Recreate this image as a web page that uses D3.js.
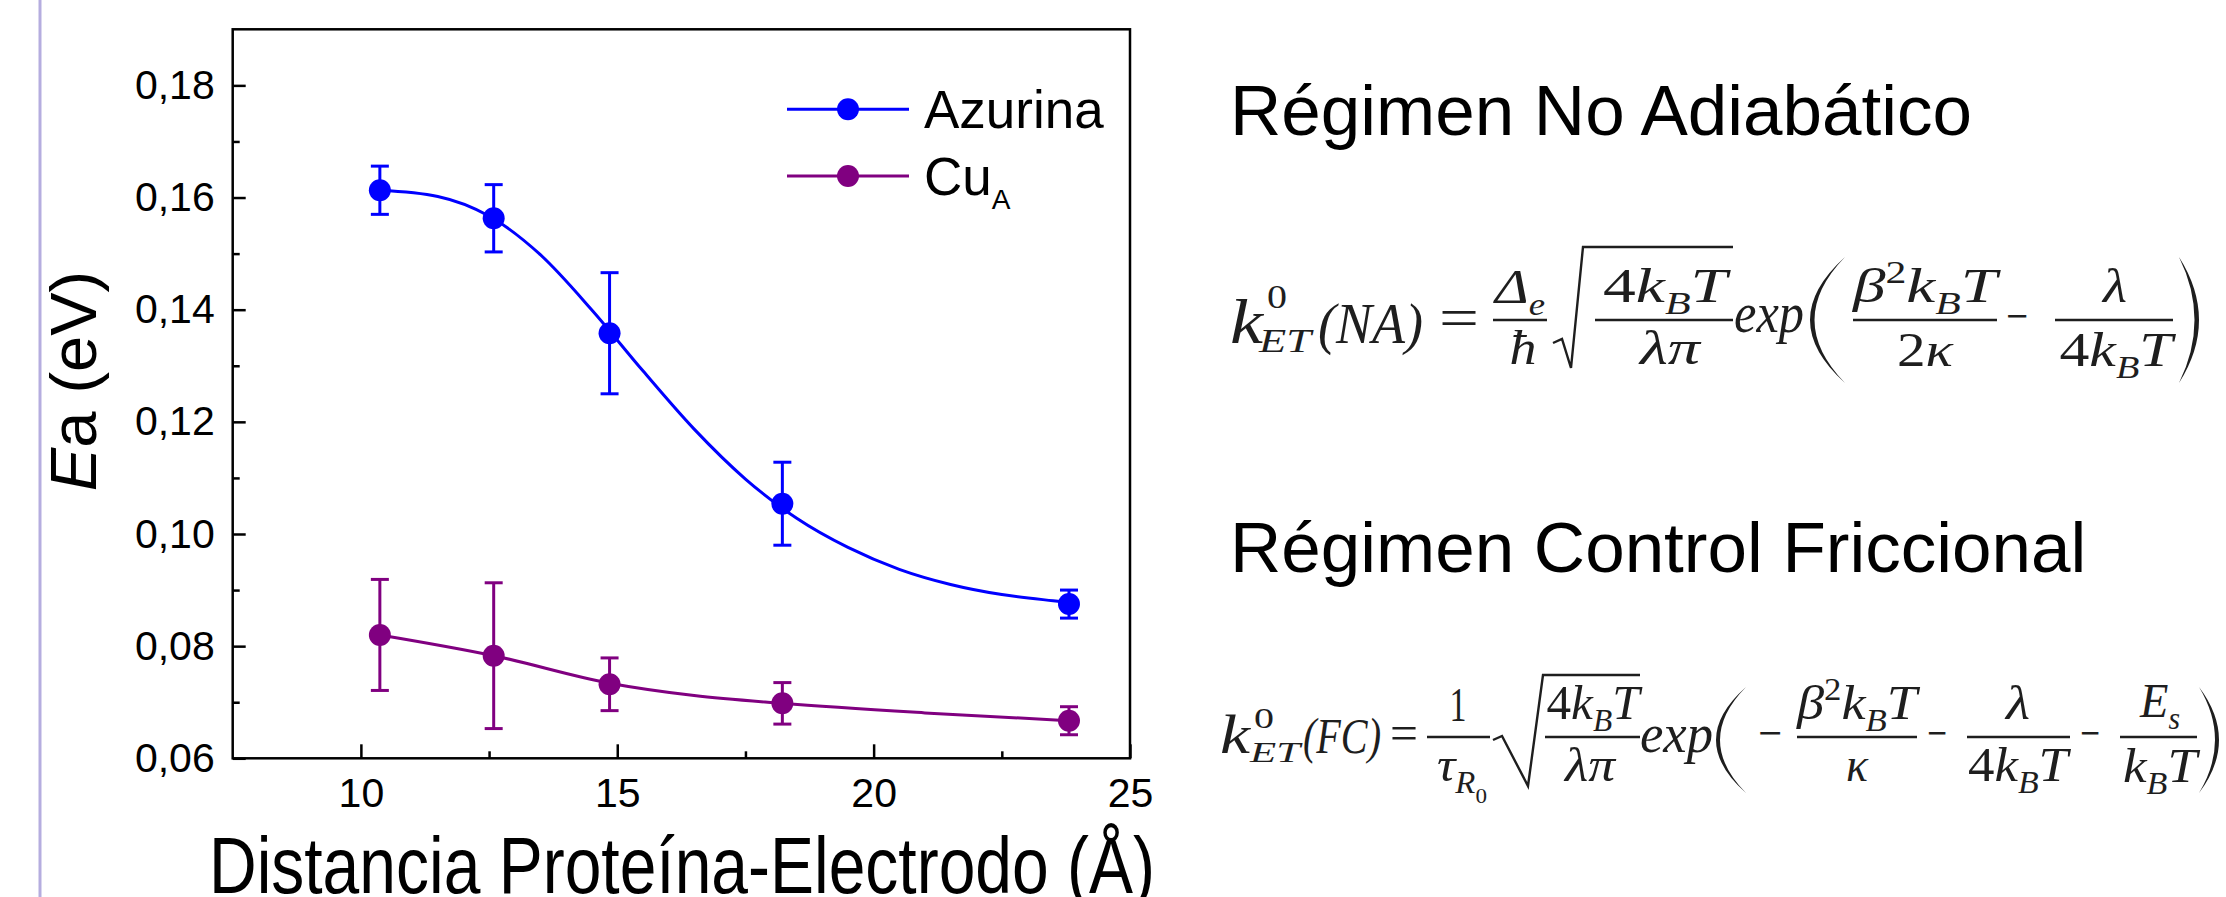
<!DOCTYPE html>
<html><head><meta charset="utf-8">
<script src="https://cdn.jsdelivr.net/npm/d3@7"></script>
<style>html,body{margin:0;padding:0;background:#fff;overflow:hidden}</style>
</head><body><svg id="chart" width="2226" height="897"></svg>
<script>
// ---------------- data ----------------
const distances   = [10.37, 12.59, 14.85, 18.22, 23.81];
const azurinaEa   = [0.1613, 0.1563, 0.1358, 0.1054, 0.0875];
const azurinaErr  = [0.0043, 0.0060, 0.0108, 0.0074, 0.0025];
const cuaEa       = [0.0820, 0.0783, 0.0732, 0.0698, 0.0667];
const cuaErr      = [0.0099, 0.0130, 0.0047, 0.0037, 0.0025];
// fitted curves
const azurinaFitX = [10.37, 11.5, 12.5, 13.5, 14.5, 15.5, 16.5, 17.5, 18.5, 19.5, 20.5, 21.5, 22.5, 23.5, 23.81];
const azurinaFitY = [0.1613, 0.1602, 0.1567, 0.1498, 0.1400, 0.1291, 0.1187, 0.1098, 0.1028, 0.0976, 0.0937, 0.0910, 0.0892, 0.0881, 0.0878];
const cuaFitX     = [10.37, 12.59, 14.85, 16.50, 18.22, 21.00, 23.81];
const cuaFitY     = [0.0820, 0.0783, 0.0734, 0.0712, 0.0698, 0.0681, 0.0667];
const seriesNames = ["Azurina", "Cu"];
const xTicks      = [10, 15, 20, 25];
const xMinorTicks = [12.5, 17.5, 22.5];
const yTicks      = [0.06, 0.08, 0.10, 0.12, 0.14, 0.16, 0.18];
const yMinorTicks = [0.07, 0.09, 0.11, 0.13, 0.15, 0.17];
const xTitle = "Distancia Proteína-Electrodo (Å)";
const title1 = "Régimen No Adiabático";
const title2 = "Régimen Control Friccional";

// ---------------- layout ----------------
const svg = d3.select("#chart");
const sans = "'Liberation Sans', Arial, sans-serif";
const serif = "'Liberation Serif', 'Times New Roman', serif";
const BLUE = "#0000ff", PURPLE = "#800080";
const L = 232.7, R = 1130, T = 29.3, B = 758.3;

const x = d3.scaleLinear().domain([7.5, 25]).range([L, R]);
const y = d3.scaleLinear().domain([0.06, 0.19]).range([B, T]);

// lavender slide border
svg.append("line").attr("x1", 40).attr("x2", 40).attr("y1", 0).attr("y2", 897)
  .attr("stroke", "#b5addf").attr("stroke-width", 3);

// axes
const fmt = v => d3.format(".2f")(v).replace(".", ",");
const gx = svg.append("g").attr("transform", `translate(0,${B})`)
  .call(d3.axisBottom(x).tickValues(xTicks).tickSize(-14).tickPadding(20).tickFormat(d3.format("d")));
const gxm = svg.append("g").attr("transform", `translate(0,${B})`)
  .call(d3.axisBottom(x).tickValues(xMinorTicks).tickSize(-7).tickFormat(""));
const gy = svg.append("g").attr("transform", `translate(${L},0)`)
  .call(d3.axisLeft(y).tickValues(yTicks).tickSize(-13).tickPadding(18).tickFormat(fmt));
const gym = svg.append("g").attr("transform", `translate(${L},0)`)
  .call(d3.axisLeft(y).tickValues(yMinorTicks).tickSize(-7).tickFormat(""));
[gx, gxm, gy, gym].forEach(g => {
  g.select(".domain").remove();
  g.selectAll(".tick line").attr("stroke", "#000").attr("stroke-width", 2.5);
  g.selectAll("text").attr("font-family", sans).attr("font-size", 41).attr("fill", "#000");
});
gx.selectAll("text").attr("dy", "0.71em");

// frame
svg.append("rect").attr("x", L).attr("y", T).attr("width", R - L).attr("height", B - T)
  .attr("fill", "none").attr("stroke", "#000").attr("stroke-width", 2.5);

// axis titles
svg.append("text").attr("x", 209).attr("y", 893)
  .attr("font-family", sans).attr("font-size", 80).attr("fill", "#000")
  .attr("textLength", 946).attr("lengthAdjust", "spacingAndGlyphs").text(xTitle);
const yt = svg.append("text").attr("transform", "translate(96,381) rotate(-90)")
  .attr("text-anchor", "middle").attr("font-family", sans).attr("font-size", 65).attr("fill", "#000");
yt.append("tspan").attr("font-style", "italic").text("E");
yt.append("tspan").text("a (eV)");

// series
function drawSeries(vals, errs, fx, fy, color) {
  const line = d3.line().x(d => x(d[0])).y(d => y(d[1])).curve(d3.curveMonotoneX);
  svg.append("path").datum(fx.map((v, i) => [v, fy[i]])).attr("d", line)
    .attr("fill", "none").attr("stroke", color).attr("stroke-width", 3);
  const pts = distances.map((d, i) => ({x: d, v: vals[i], e: errs[i]}));
  const g = svg.append("g").attr("stroke", color).attr("stroke-width", 3);
  g.selectAll(".eb").data(pts).join("line")
    .attr("x1", d => x(d.x)).attr("x2", d => x(d.x))
    .attr("y1", d => y(d.v - d.e)).attr("y2", d => y(d.v + d.e));
  g.selectAll(".ct").data(pts).join("line")
    .attr("x1", d => x(d.x) - 9).attr("x2", d => x(d.x) + 9)
    .attr("y1", d => y(d.v + d.e)).attr("y2", d => y(d.v + d.e));
  g.selectAll(".cb").data(pts).join("line")
    .attr("x1", d => x(d.x) - 9).attr("x2", d => x(d.x) + 9)
    .attr("y1", d => y(d.v - d.e)).attr("y2", d => y(d.v - d.e));
  svg.append("g").selectAll("circle").data(pts).join("circle")
    .attr("cx", d => x(d.x)).attr("cy", d => y(d.v)).attr("r", 11).attr("fill", color);
}
drawSeries(azurinaEa, azurinaErr, azurinaFitX, azurinaFitY, BLUE);
drawSeries(cuaEa, cuaErr, cuaFitX, cuaFitY, PURPLE);

// legend
const leg = [{c: BLUE, y: 109.3}, {c: PURPLE, y: 176}];
leg.forEach(l => {
  svg.append("line").attr("x1", 787).attr("x2", 909).attr("y1", l.y).attr("y2", l.y)
    .attr("stroke", l.c).attr("stroke-width", 3);
  svg.append("circle").attr("cx", 848).attr("cy", l.y).attr("r", 11).attr("fill", l.c);
});
svg.append("text").attr("x", 924).attr("y", 128).attr("font-family", sans).attr("font-size", 53)
  .attr("fill", "#000").text(seriesNames[0]);
const cu = svg.append("text").attr("x", 924).attr("y", 195).attr("font-family", sans).attr("font-size", 53).attr("fill", "#000");
cu.append("tspan").text(seriesNames[1]);
cu.append("tspan").attr("font-size", 28).attr("dy", 14).text("A");

// right titles
svg.append("text").attr("x", 1230).attr("y", 135).attr("font-family", sans).attr("font-size", 71).attr("fill", "#000").text(title1);
svg.append("text").attr("x", 1230).attr("y", 572).attr("font-family", sans).attr("font-size", 71).attr("fill", "#000").text(title2);

// ---------------- equations ----------------
const EQ = "#1e1e1e";
const eq = svg.append("g").attr("fill", EQ);
function rich(parts, x0, y0, size, anchor, len) {
  const t = eq.append("text").attr("x", x0).attr("y", y0).attr("font-size", size)
    .attr("font-family", serif).attr("font-style", "italic").attr("text-anchor", anchor || "start");
  let shift = 0;
  parts.forEach(p => {
    const [s, k] = typeof p === "string" ? [p, "i"] : p;
    let target = 0, fs = size, style = "italic";
    if (k === "sub") { target = 0.25 * size; fs = 0.64 * size; }
    if (k === "sub2") { target = 0.45 * size; fs = 0.45 * size; style = "normal"; }
    if (k === "sup") { target = -0.40 * size; fs = 0.64 * size; style = "normal"; }
    if (k === "up") style = "normal";
    t.append("tspan").attr("font-size", fs).attr("font-style", style).attr("dy", target - shift).text(s);
    shift = target;
  });
  if (len) t.attr("textLength", len).attr("lengthAdjust", "spacingAndGlyphs");
  return t;
}
function bar(x1, x2, yy) {
  eq.append("line").attr("x1", x1).attr("x2", x2).attr("y1", yy).attr("y2", yy)
    .attr("stroke", EQ).attr("stroke-width", 2.4);
}
// tall bracket drawn as a tapered crescent: x0 = tips, xm = bulge, y0..y1 vertical extent
function paren(x0, xm, y0, y1, w) {
  const ym = (y0 + y1) / 2, c = 2 * xm - x0, dir = xm < x0 ? 1 : -1;
  eq.append("path")
    .attr("d", `M${x0},${y0} Q${c},${ym} ${x0},${y1} Q${c + dir * w},${ym} ${x0},${y0} Z`)
    .attr("fill", EQ);
}
const kBT = [["4", "up"], "k", ["B", "sub"], "T"];

// Equation 1 : k0ET(NA)
rich(["k"], 1230, 343, 64, "start", 33);
rich([["0", "up"]], 1267, 308, 34, "start", 20);
rich(["ET"], 1259, 352, 34, "start", 52);
rich(["(NA)"], 1318, 343, 58, "start", 105);
rich([["=", "up"]], 1459, 337, 56, "middle", 40);
rich(["Δ", ["e", "sub"]], 1520, 303, 48, "middle", 50);
bar(1493, 1547, 320);
rich(["ħ"], 1523, 364, 48, "middle", 27);
eq.append("path").attr("d", "M1553,343 L1562,339 L1571,368 L1583,247 L1733,247")
  .attr("fill", "none").attr("stroke", EQ).attr("stroke-width", 2.4);
rich(kBT, 1665, 302, 48, "middle", 124);
bar(1595, 1733, 320);
rich(["λπ"], 1670, 364, 48, "middle", 60);
rich(["exp"], 1734, 332, 56, "start", 70);
paren(1845, 1810, 257, 383, 9);
rich(["β", ["2", "sup"], "k", ["B", "sub"], "T"], 1925, 302, 48, "middle", 144);
bar(1853, 1997, 320);
rich([["2", "up"], "κ"], 1925, 366, 48, "middle", 56);
rich([["−", "up"]], 2017, 333, 50, "middle", 22);
rich(["λ"], 2115, 302, 48, "middle", 24);
bar(2055, 2173, 320);
rich(kBT, 2116, 366, 48, "middle", 113);
paren(2179, 2199, 257, 383, 9);

// Equation 2 : k0ET(FC)
rich(["k"], 1220, 753, 54, "start", 30);
rich([["0", "up"]], 1254, 728, 30, "start", 20);
rich(["ET"], 1250, 762, 30, "start", 50);
rich(["(FC)"], 1303, 753, 50, "start", 78);
rich([["=", "up"]], 1404, 750, 50, "middle", 28);
rich([["1", "up"]], 1458, 721, 48, "middle", 17);
bar(1427, 1490, 737);
rich(["τ", ["R", "sub"], ["0", "sub2"]], 1462, 781, 48, "middle", 50);
eq.append("path").attr("d", "M1493,740 L1502,736 L1528,786 L1543,675 L1640,675")
  .attr("fill", "none").attr("stroke", EQ).attr("stroke-width", 2.4);
rich(kBT, 1593, 719, 48, "middle", 93);
bar(1545, 1640, 737);
rich(["λπ"], 1590, 781, 48, "middle", 50);
rich(["exp"], 1640, 752, 54, "start", 73);
paren(1746, 1716, 687, 793, 8);
rich([["−", "up"]], 1770, 750, 50, "middle", 24);
rich(["β", ["2", "sup"], "k", ["B", "sub"], "T"], 1857, 719, 48, "middle", 120);
bar(1797, 1917, 737);
rich(["κ"], 1857, 781, 48, "middle", 22);
rich([["−", "up"]], 1937, 750, 50, "middle", 20);
rich(["λ"], 2018, 719, 48, "middle", 24);
bar(1967, 2070, 737);
rich(kBT, 2018, 781, 48, "middle", 100);
rich([["−", "up"]], 2090, 750, 50, "middle", 20);
rich(["E", ["s", "sub"]], 2160, 717, 48, "middle", 40);
bar(2120, 2197, 737);
rich(["k", ["B", "sub"], "T"], 2160, 782, 48, "middle", 74);
paren(2199, 2219, 687, 793, 8);
</script>
</body></html>
